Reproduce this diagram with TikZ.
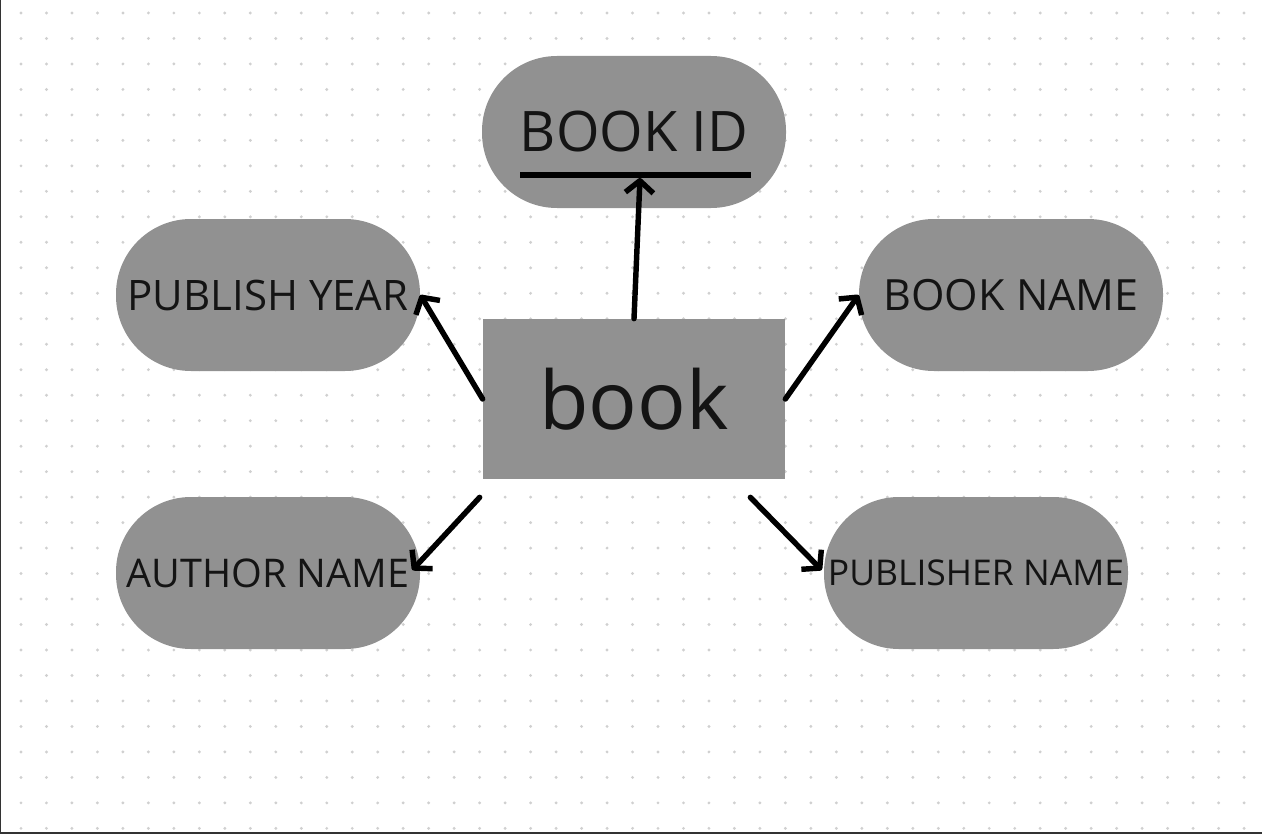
\documentclass[tikz,border=0pt]{standalone}
\usepackage{fontspec}
\setmainfont{Open Sans}
\usepackage{tikz}
\usetikzlibrary{arrows.meta}
\definecolor{shapegray}{RGB}{145,145,145}
\definecolor{dotgray}{RGB}{208,208,208}
\tikzstyle{attribute} = [rectangle, rounded corners=1.5cm, minimum width=6.08cm, minimum height=3.04cm, inner sep=0pt, text centered, fill=shapegray, text=black!92]
\tikzstyle{entity} = [rectangle, minimum width=6.04cm, minimum height=3.2cm, inner sep=0pt, text centered, fill=shapegray, text=black!92]
\tikzstyle{arrow} = [line width=3.1pt, line cap=round, -{Straight Barb[length=2.4mm, width=5.6mm, line join=round]}]

\begin{document}
\begin{tikzpicture}[node distance=2cm]

    % Page and dot grid
    \useasboundingbox (0,0) rectangle (25.24,-16.66);
    \fill[white] (0,0) rectangle (25.24,-16.66);
    \foreach \i in {0,...,48}
        \foreach \j in {0,...,32}
            \fill[dotgray] ({0.42+0.5096*\i},{-0.26-0.5096*\j}) circle (0.032);
    \draw[line width=1.4pt, black!80] (0,0) -- (0,-16.66) -- (25.24,-16.66);

    % Nodes
    \node (book) [entity] at (12.68,-7.98) {\fontsize{46}{50}\selectfont book};
    \node (bookid) [attribute, above of=book, yshift=3.34cm] {\fontsize{31.8}{36}\selectfont BOOK ID};
    \node (pubyear) [attribute, left of=book, xshift=-5.32cm, yshift=2.08cm] {\fontsize{23.9}{27}\selectfont PUBLISH YEAR};
    \node (bookname) [attribute, right of=book, xshift=5.54cm, yshift=2.08cm] {\fontsize{24.5}{28}\selectfont BOOK NAME};
    \node (author) [attribute, left of=book, xshift=-5.32cm, yshift=-3.48cm] {\fontsize{22.5}{26}\selectfont AUTHOR NAME};
    \node (publisher) [attribute, right of=book, xshift=4.84cm, yshift=-3.48cm] {\fontsize{20.2}{23}\selectfont PUBLISHER NAME};

    % Key underline
    \draw[line width=3.3pt] ([xshift=-2.28cm, yshift=-0.86cm]bookid.center) -- ([xshift=2.34cm, yshift=-0.86cm]bookid.center);
    \coordinate (idtip) at ([xshift=0.12cm, yshift=-0.92cm]bookid.center);

    % Arrows
    \draw [arrow] (book.north) -- (idtip);
    \draw [arrow] (book.west) -- (pubyear.east);
    \draw [arrow] (book.east) -- (bookname.west);
    \draw [arrow] ([xshift=-0.06cm, yshift=-0.36cm]book.south west) -- ([xshift=-0.16cm, yshift=0.06cm]author.east);
    \draw [arrow] ([xshift=-0.7cm, yshift=-0.36cm]book.south east) -- ([xshift=-0.04cm, yshift=0.06cm]publisher.west);

\end{tikzpicture}
\end{document}
